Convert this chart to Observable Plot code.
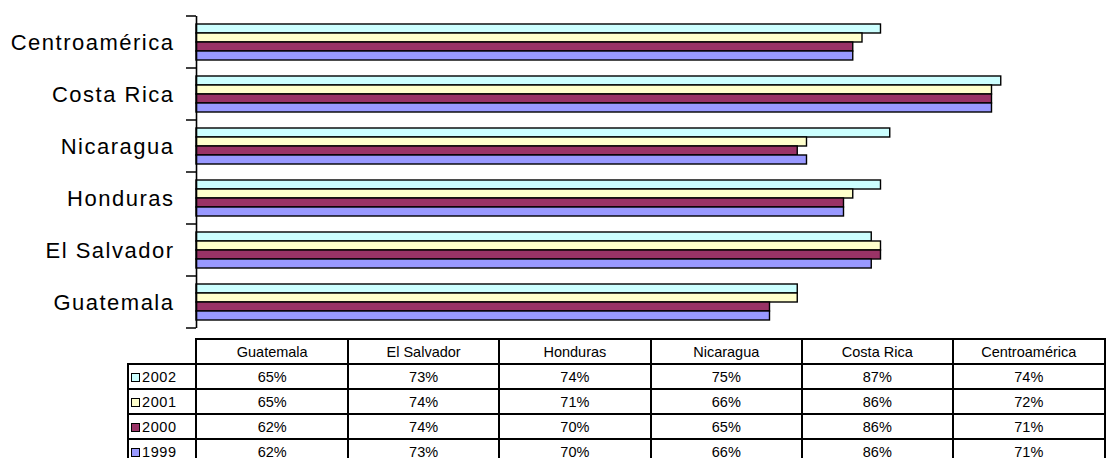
<!DOCTYPE html>
<html>
<head>
<meta charset="utf-8">
<script src="https://cdn.jsdelivr.net/npm/d3@7"></script>
<script src="https://cdn.jsdelivr.net/npm/@observablehq/plot@0.6"></script>
<style>
  html, body { margin: 0; padding: 0; background: #fff; overflow: hidden; width: 1106px; height: 458px; }
  #chart { position: absolute; left: 0; top: 0; width: 1121px; }
  #chart svg { max-width: none !important; }
  #chart svg text { letter-spacing: 1.5px; }
  #tbl { position: absolute; left: 127px; top: 338px; border-collapse: collapse; table-layout: fixed;
         font-family: "Liberation Sans", Arial, sans-serif; font-size: 14.5px; color: #000; }
  #tbl td, #tbl th { border: 2px solid #000; padding: 0; text-align: center; font-weight: normal; height: 23px; line-height: 16px; }
  #tbl th.blank { border-top: none; border-left: none; }
  #tbl td.lab { text-align: left; padding-left: 2px; white-space: nowrap; letter-spacing: 0.6px; }
  .sw { display: inline-block; width: 7px; height: 7px; border: 1px solid #000; margin-right: 2px; vertical-align: 0px; }
</style>
</head>
<body>
<div id="chart"></div>
<table id="tbl"></table>
<script>
// Chart order (top to bottom)
const countries = ["Centroamérica", "Costa Rica", "Nicaragua", "Honduras", "El Salvador", "Guatemala"];
// Table column order
const tableCountries = ["Guatemala", "El Salvador", "Honduras", "Nicaragua", "Costa Rica", "Centroamérica"];
const years = ["2002", "2001", "2000", "1999"];
const colors = ["#CCFFFF", "#FFFFCC", "#993366", "#9999FF"];
// values in chart order
const v2002 = [0.74, 0.87, 0.75, 0.74, 0.73, 0.65];
const v2001 = [0.72, 0.86, 0.66, 0.71, 0.74, 0.65];
const v2000 = [0.71, 0.86, 0.65, 0.70, 0.74, 0.62];
const v1999 = [0.71, 0.86, 0.66, 0.70, 0.73, 0.62];
const series = {"2002": v2002, "2001": v2001, "2000": v2000, "1999": v1999};

const data = years.flatMap(y => countries.map((c, i) => ({country: c, year: y, value: series[y][i]})));

const plot = Plot.plot({
  width: 1121,
  height: 334,
  marginLeft: 196,
  marginRight: 0,
  marginTop: 15,
  marginBottom: 6,
  style: {fontFamily: "'Liberation Sans', Arial, sans-serif", fontSize: "22px", color: "#000", background: "transparent", maxWidth: "none"},
  x: {domain: [0, 1], axis: null},
  y: {domain: years, paddingInner: 0, paddingOuter: 0.74, axis: null},
  fy: {domain: countries, padding: 0, axis: "left", tickSize: 0, tickPadding: 22, label: null},
  color: {domain: years, range: colors},
  marks: [
    Plot.barX(data, {fy: "country", y: "year", x: "value", fill: "year", stroke: "#000", strokeWidth: 1.4}),
    Plot.ruleX([0], {stroke: "#000", strokeWidth: 1.6})
  ]
});
document.getElementById("chart").appendChild(plot);

// boundary tick marks on the category axis
const fy = plot.scale("fy");
const x0 = plot.scale("x").apply(0);
const bw = fy.bandwidth;
const edges = countries.map(c => fy.apply(c)).concat([fy.apply(countries[countries.length - 1]) + bw]);
d3.select(plot).append("g")
  .selectAll("line").data(edges).join("line")
  .attr("x1", x0 - 10).attr("x2", x0)
  .attr("y1", d => d).attr("y2", d => d)
  .attr("stroke", "#000").attr("stroke-width", 1.5);

// data table
const colW = (plot.scale("x").apply(1) - x0) / tableCountries.length;
const tbl = d3.select("#tbl");
const cg = tbl.append("colgroup");
cg.append("col").style("width", (x0 - 127) + "px");
tableCountries.forEach(() => cg.append("col").style("width", colW + "px"));
const hr = tbl.append("tr");
hr.append("th").attr("class", "blank");
tableCountries.forEach(c => hr.append("th").text(c));
years.forEach((y, k) => {
  const tr = tbl.append("tr");
  const lab = tr.append("td").attr("class", "lab");
  lab.append("span").attr("class", "sw").style("background", colors[k]);
  lab.append("span").text(y);
  tableCountries.forEach(c => {
    const v = series[y][countries.indexOf(c)];
    tr.append("td").text(Math.round(v * 100) + "%");
  });
});
</script>
</body>
</html>
